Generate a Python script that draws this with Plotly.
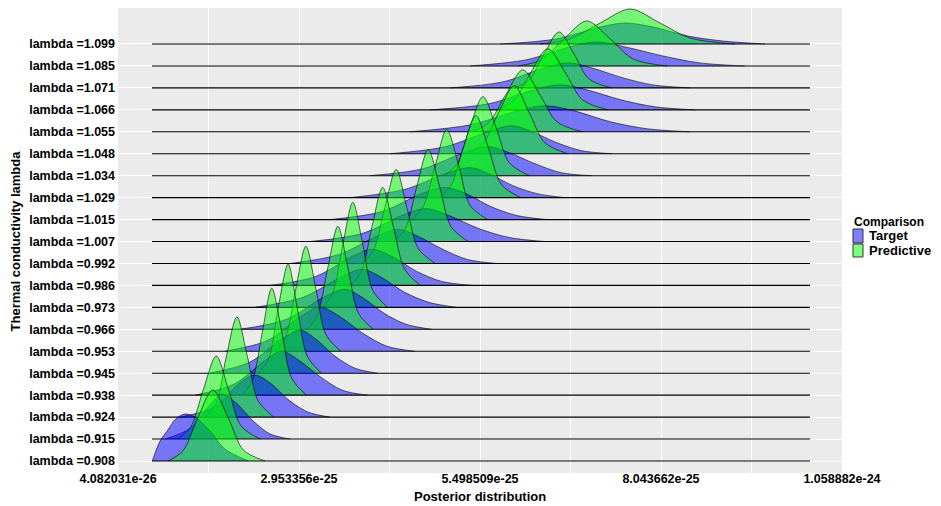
import plotly.graph_objects as go

# ---------------- data ----------------
LAMBDA_LABELS = ["0.908", "0.915", "0.924", "0.938", "0.945", "0.953", "0.966",
                 "0.973", "0.986", "0.992", "1.007", "1.015", "1.029", "1.034",
                 "1.048", "1.055", "1.066", "1.071", "1.085", "1.099"]

TICK_VALUES = [4.082031e-26, 2.953356e-25, 5.498509e-25, 8.043662e-25, 1.058882e-24]
TICK_TEXT = ["4.082031e-26", "2.953356e-25", "5.498509e-25", "8.043662e-25", "1.058882e-24"]

X_UNIT = 1e-25            # x values below are in units of 1e-25
DENSITY_MIN_X = 0.886     # range over which the densities were evaluated
DENSITY_MAX_X = 10.138

# Target (blue) density: x positions and relative density heights, per lambda
TARGET_X = [
    [0.89, 1.00, 1.10, 1.22, 1.35, 1.49, 1.70, 1.91, 2.24],
    [1.07, 1.43, 1.72, 1.87, 2.07, 2.31, 2.55, 2.83],
    [1.28, 1.76, 2.12, 2.33, 2.55, 2.81, 3.08, 3.39],
    [1.49, 2.04, 2.48, 2.71, 2.95, 3.26, 3.56, 3.92],
    [1.70, 2.26, 2.71, 2.97, 3.19, 3.46, 3.74, 4.06],
    [1.91, 2.52, 2.98, 3.25, 3.52, 3.85, 4.19, 4.58],
    [2.12, 2.78, 3.30, 3.60, 3.84, 4.15, 4.46, 4.82],
    [2.33, 3.01, 3.54, 3.84, 4.11, 4.44, 4.78, 5.17],
    [2.55, 3.19, 3.70, 3.98, 4.26, 4.61, 4.96, 5.39],
    [2.83, 3.52, 4.04, 4.35, 4.63, 4.98, 5.32, 5.74],
    [3.11, 3.84, 4.40, 4.73, 5.06, 5.48, 5.91, 6.41],
    [3.39, 4.12, 4.68, 5.01, 5.30, 5.65, 6.02, 6.45],
    [3.67, 4.43, 5.02, 5.36, 5.62, 5.96, 6.30, 6.69],
    [3.95, 4.70, 5.27, 5.61, 5.91, 6.27, 6.64, 7.07],
    [4.23, 5.01, 5.61, 5.95, 6.23, 6.58, 6.93, 7.35],
    [4.51, 5.37, 6.03, 6.41, 6.82, 7.33, 7.85, 8.45],
    [4.80, 5.62, 6.26, 6.62, 7.00, 7.48, 7.96, 8.52],
    [5.08, 5.82, 6.40, 6.74, 7.07, 7.51, 7.93, 8.45],
    [5.36, 6.14, 6.76, 7.12, 7.54, 8.07, 8.59, 9.22],
    [5.78, 6.57, 7.19, 7.54, 7.93, 8.42, 8.91, 9.51],
]
TARGET_D = [
    [0, 0.20, 0.30, 0.42, 0.47, 0.44, 0.30, 0.12, 0],
    [0, 0.11, 0.36, 0.45, 0.36, 0.18, 0.05, 0],
    [0, 0.10, 0.34, 0.42, 0.34, 0.17, 0.05, 0],
    [0, 0.11, 0.35, 0.44, 0.35, 0.18, 0.05, 0],
    [0, 0.11, 0.34, 0.43, 0.34, 0.17, 0.05, 0],
    [0, 0.11, 0.35, 0.44, 0.35, 0.18, 0.05, 0],
    [0, 0.10, 0.32, 0.40, 0.32, 0.16, 0.05, 0],
    [0, 0.10, 0.30, 0.38, 0.30, 0.15, 0.05, 0],
    [0, 0.09, 0.29, 0.36, 0.29, 0.14, 0.04, 0],
    [0, 0.09, 0.27, 0.34, 0.27, 0.14, 0.04, 0],
    [0, 0.08, 0.26, 0.33, 0.26, 0.13, 0.04, 0],
    [0, 0.08, 0.26, 0.32, 0.26, 0.13, 0.04, 0],
    [0, 0.08, 0.24, 0.30, 0.24, 0.12, 0.04, 0],
    [0, 0.07, 0.23, 0.29, 0.23, 0.12, 0.03, 0],
    [0, 0.07, 0.22, 0.28, 0.22, 0.11, 0.03, 0],
    [0, 0.07, 0.21, 0.26, 0.21, 0.10, 0.03, 0],
    [0, 0.06, 0.20, 0.25, 0.20, 0.10, 0.03, 0],
    [0, 0.06, 0.20, 0.25, 0.20, 0.10, 0.03, 0],
    [0, 0.06, 0.19, 0.24, 0.19, 0.10, 0.03, 0],
    [0, 0.05, 0.17, 0.21, 0.17, 0.08, 0.03, 0],
]

# Predictive (green) density
PREDICTIVE_X = [
    [1.11, 1.32, 1.53, 1.74, 1.96, 2.17, 2.48],
    [1.25, 1.43, 1.61, 1.79, 1.96, 2.14, 2.41],
    [1.64, 1.79, 1.93, 2.08, 2.23, 2.38, 2.60],
    [2.16, 2.30, 2.44, 2.57, 2.71, 2.85, 3.06],
    [2.39, 2.53, 2.66, 2.80, 2.93, 3.07, 3.27],
    [2.63, 2.77, 2.91, 3.05, 3.19, 3.33, 3.54],
    [3.07, 3.21, 3.36, 3.50, 3.64, 3.79, 4.00],
    [3.29, 3.43, 3.57, 3.71, 3.85, 3.99, 4.20],
    [3.68, 3.83, 3.98, 4.13, 4.28, 4.44, 4.66],
    [3.84, 4.00, 4.16, 4.32, 4.47, 4.63, 4.87],
    [4.29, 4.45, 4.61, 4.77, 4.93, 5.09, 5.33],
    [4.54, 4.70, 4.87, 5.03, 5.20, 5.36, 5.61],
    [4.90, 5.08, 5.26, 5.44, 5.62, 5.80, 6.07],
    [4.98, 5.17, 5.35, 5.54, 5.73, 5.91, 6.19],
    [5.33, 5.54, 5.76, 5.98, 6.19, 6.41, 6.73],
    [5.39, 5.62, 5.86, 6.10, 6.34, 6.58, 6.94],
    [5.73, 5.97, 6.21, 6.45, 6.70, 6.94, 7.30],
    [5.98, 6.19, 6.40, 6.61, 6.82, 7.03, 7.35],
    [6.03, 6.36, 6.68, 7.00, 7.33, 7.65, 8.13],
    [6.34, 6.76, 7.19, 7.61, 8.03, 8.45, 9.08],
]
PREDICTIVE_D = [
    [0, 0.10, 0.43, 0.71, 0.43, 0.11, 0],
    [0, 0.12, 0.50, 0.83, 0.50, 0.13, 0],
    [0, 0.14, 0.60, 1.00, 0.60, 0.16, 0],
    [0, 0.15, 0.64, 1.07, 0.64, 0.17, 0],
    [0, 0.15, 0.65, 1.09, 0.65, 0.17, 0],
    [0, 0.15, 0.63, 1.05, 0.63, 0.17, 0],
    [0, 0.14, 0.62, 1.03, 0.62, 0.16, 0],
    [0, 0.15, 0.63, 1.05, 0.63, 0.17, 0],
    [0, 0.14, 0.59, 0.98, 0.59, 0.16, 0],
    [0, 0.13, 0.56, 0.94, 0.56, 0.15, 0],
    [0, 0.13, 0.55, 0.92, 0.55, 0.15, 0],
    [0, 0.13, 0.54, 0.90, 0.54, 0.14, 0],
    [0, 0.11, 0.49, 0.82, 0.49, 0.13, 0],
    [0, 0.11, 0.47, 0.79, 0.47, 0.13, 0],
    [0, 0.10, 0.41, 0.68, 0.41, 0.11, 0],
    [0, 0.09, 0.37, 0.62, 0.37, 0.10, 0],
    [0, 0.09, 0.37, 0.61, 0.37, 0.10, 0],
    [0, 0.08, 0.34, 0.56, 0.34, 0.09, 0],
    [0, 0.06, 0.27, 0.45, 0.27, 0.07, 0],
    [0, 0.05, 0.21, 0.35, 0.21, 0.06, 0],
]

SERIES_NAMES = ["Target", "Predictive"]
SERIES_FILL = ["rgba(0,0,255,0.5)", "rgba(0,255,0,0.5)"]

# ---------------- style ----------------
RIDGE_SCALE = 4.556       # ridge-units per unit of relative density
FONT = "Liberation Sans, Arial, Helvetica, sans-serif"

fig = go.Figure()
n = len(LAMBDA_LABELS)
# draw from the top ridge down so lower ridges overlap higher ones (ggridges order)
for i in reversed(range(n)):
    for xs, ds, fillc in ((TARGET_X[i], TARGET_D[i], SERIES_FILL[0]),
                          (PREDICTIVE_X[i], PREDICTIVE_D[i], SERIES_FILL[1])):
        fig.add_trace(go.Scatter(
            x=[v * X_UNIT for v in xs],
            y=[i + d * RIDGE_SCALE for d in ds],
            mode="lines",
            line=dict(color="rgba(0,0,0,0.85)", width=0.7, shape="spline", smoothing=0.9),
            fill="toself", fillcolor=fillc,
            hoverinfo="skip", showlegend=False))
    fig.add_trace(go.Scatter(
        x=[DENSITY_MIN_X * X_UNIT, DENSITY_MAX_X * X_UNIT], y=[i, i],
        mode="lines", line=dict(color="black", width=1.1),
        hoverinfo="skip", showlegend=False))

minor_vals = [(TICK_VALUES[k] + TICK_VALUES[k + 1]) / 2 for k in range(len(TICK_VALUES) - 1)]
eps = 1e-29

fig.update_layout(
    width=941, height=506,
    margin=dict(l=118, r=99, t=8, b=33),
    paper_bgcolor="white", plot_bgcolor="#EBEBEB",
    showlegend=False,
    font=dict(family=FONT, color="black"),
)
fig.update_xaxes(
    range=[TICK_VALUES[0] - eps, TICK_VALUES[-1] + eps],
    tickmode="array", tickvals=TICK_VALUES, ticktext=TICK_TEXT,
    tickfont=dict(size=12.5, family=FONT, color="black", weight="bold"),
    showgrid=True, gridcolor="white", gridwidth=1.1, zeroline=False,
    ticks="", ticklabelstandoff=-4,
    minor=dict(tickmode="array", tickvals=minor_vals, showgrid=True,
               gridcolor="white", gridwidth=0.55, ticks=""),
)
fig.update_yaxes(
    range=[-0.5467, 20.640],
    tickmode="array", tickvals=list(range(n)),
    ticktext=["lambda =" + s for s in LAMBDA_LABELS],
    tickfont=dict(size=12.5, family=FONT, color="black", weight="bold"),
    showgrid=True, gridcolor="white", gridwidth=1.1, zeroline=False,
    ticks="", ticklabelstandoff=2,
)

annotations = [
    dict(text="<b>Posterior distribution</b>", x=0.5, y=-0.0516, xref="paper", yref="paper",
         xanchor="center", yanchor="middle", showarrow=False, font=dict(size=13, family=FONT)),
    dict(text="<b>Thermal conductivity lambda</b>", x=-0.141, y=0.5, xref="paper", yref="paper",
         xanchor="center", yanchor="middle", textangle=-90, showarrow=False,
         font=dict(size=13, family=FONT)),
    dict(text="<b>Comparison</b>", x=1.0138, y=0.5400, xref="paper", yref="paper",
         xanchor="left", yanchor="middle", showarrow=False, font=dict(size=12, family=FONT)),
    dict(text="<b>" + SERIES_NAMES[0] + "</b>", x=1.0345, y=0.5097, xref="paper", yref="paper",
         xanchor="left", yanchor="middle", showarrow=False, font=dict(size=13, family=FONT)),
    dict(text="<b>" + SERIES_NAMES[1] + "</b>", x=1.0345, y=0.4786, xref="paper", yref="paper",
         xanchor="left", yanchor="middle", showarrow=False, font=dict(size=13, family=FONT)),
]
shapes = [
    dict(type="rect", xref="paper", yref="paper", x0=1.0152, x1=1.0290, y0=0.4946, y1=0.5247,
         fillcolor=SERIES_FILL[0], line=dict(color="#333333", width=1)),
    dict(type="rect", xref="paper", yref="paper", x0=1.0152, x1=1.0290, y0=0.4645, y1=0.4925,
         fillcolor=SERIES_FILL[1], line=dict(color="#333333", width=1)),
]
fig.update_layout(annotations=annotations, shapes=shapes)

fig.write_html("out.html", config={"displayModeBar": False},
               post_script="document.body.style.margin='0px';")
